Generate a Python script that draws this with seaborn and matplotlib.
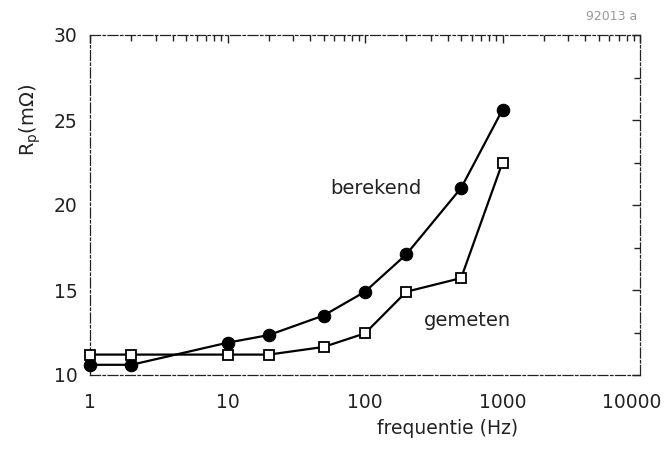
import matplotlib
matplotlib.use("Agg")
import matplotlib.pyplot as plt
import matplotlib.transforms as mtransforms
import seaborn as sns
import pandas as pd
from matplotlib.ticker import LogLocator, NullFormatter, FixedLocator

freq = [1, 2, 10, 20, 50, 100, 200, 500, 1000]
berekend = [10.6, 10.6, 11.9, 12.35, 13.5, 14.9, 17.1, 21.0, 25.6]
gemeten = [11.2, 11.2, 11.2, 11.2, 11.65, 12.45, 14.9, 15.7, 22.5]
x_ticks = [1, 10, 100, 1000, 10000]
x_ticklabels = ["1", "10", "100", "1000", "10000"]
y_ticks = [10, 15, 20, 25, 30]
y_minor = [12.5, 17.5, 22.5, 27.5]

sns.set_theme(style="white")
plt.rcParams['font.family'] = ['DejaVu Sans']
plt.rcParams['mathtext.fontset'] = 'dejavusans'

fig = plt.figure(figsize=(6.68, 4.5), dpi=100)
ax = fig.add_axes([90/668, 1-375/450, 550/668, 340/450])

df_b = pd.DataFrame({"f": freq, "R": berekend})
df_g = pd.DataFrame({"f": freq, "R": gemeten})

sns.lineplot(data=df_b, x="f", y="R", ax=ax, color="black", lw=1.6,
             marker="o", markersize=9, markerfacecolor="black",
             markeredgecolor="black", zorder=3, clip_on=False)
sns.lineplot(data=df_g, x="f", y="R", ax=ax, color="black", lw=1.6,
             marker="s", markersize=6.5, markerfacecolor="white",
             markeredgecolor="black", markeredgewidth=1.3, zorder=4, clip_on=False)

ax.set_xscale("log")
ax.set_xlim(1, 10000)
ax.set_ylim(10, 30)
ax.set_xticks(x_ticks)
ax.set_xticklabels(x_ticklabels)
ax.xaxis.set_minor_locator(LogLocator(base=10, subs=range(2, 10)))
ax.xaxis.set_minor_formatter(NullFormatter())
ax.set_yticks(y_ticks)
ax.yaxis.set_minor_locator(FixedLocator(y_minor))

for s in ax.spines.values():
    s.set_linewidth(0.9)
    s.set_linestyle((0, (8, 2, 2, 2)))
    s.set_color("#222222")

ax.tick_params(axis="both", which="major", direction="in", length=6, width=1,
               top=True, right=True, labelsize=13.5, colors="#222222")
ax.tick_params(axis="both", which="minor", direction="in", length=4, width=1,
               top=True, right=True, colors="#222222")
ax.tick_params(axis="x", which="major", pad=13)
ax.tick_params(axis="y", which="major", pad=9)

# nudge the last x tick label so it stays inside the figure
last = ax.get_xticklabels()[-1]
last.set_transform(last.get_transform() +
                   mtransforms.ScaledTranslation(-8/100, 0, fig.dpi_scale_trans))

ax.set_xlabel("frequentie (Hz)", fontsize=13.5, color="#222222")
ax.set_ylabel(r"R$_{\mathrm{p}}$(m$\Omega$)", fontsize=14, color="#222222")
ax.xaxis.set_label_coords((448-90)/550, (375-419)/340)
ax.yaxis.set_label_coords(-0.085, 0.75)

fig.text(376/668, 1-189/450, "berekend", fontsize=14, ha="center", va="center", color="#222222")
fig.text(467/668, 1-320/450, "gemeten", fontsize=14, ha="center", va="center", color="#222222")
fig.text(612/668, 1-17/450, "92013 a", fontsize=9, ha="center", va="center", color="#999999")

fig.savefig("out.png", dpi=100)
